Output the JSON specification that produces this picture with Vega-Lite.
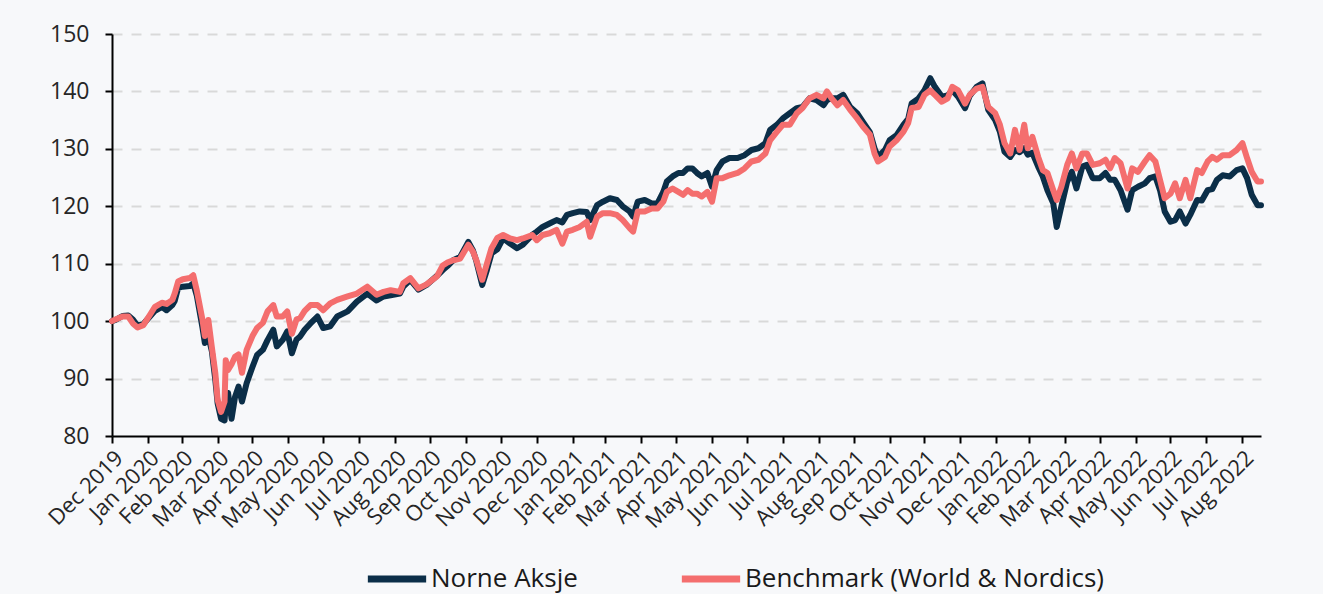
{
  "$schema": "https://vega.github.io/schema/vega-lite/v6.json",
  "width": 1149,
  "height": 402,
  "autosize": {"type": "none"},
  "padding": {"left": 112, "top": 34, "right": 62, "bottom": 158},
  "background": "#F7F8FA",
  "config": {
    "font": "Open Sans",
    "view": {"stroke": null},
    "legend": {"padding": 0}
  },
  "data": {
    "values": [
      {"date":"2019-12-31","N":100.0,"B":100.0},
      {"date":"2020-01-03","N":100.2,"B":100.3},
      {"date":"2020-01-09","N":100.9,"B":100.8},
      {"date":"2020-01-14","N":101.0,"B":100.8},
      {"date":"2020-01-18","N":100.3,"B":99.6},
      {"date":"2020-01-22","N":99.2,"B":98.9},
      {"date":"2020-01-27","N":99.5,"B":99.3},
      {"date":"2020-02-02","N":100.9,"B":101.2},
      {"date":"2020-02-06","N":101.8,"B":102.5},
      {"date":"2020-02-12","N":102.5,"B":103.2},
      {"date":"2020-02-16","N":101.9,"B":103.0},
      {"date":"2020-02-21","N":102.8,"B":103.7},
      {"date":"2020-02-23","N":103.5,"B":104.8},
      {"date":"2020-02-26","N":105.8,"B":106.9},
      {"date":"2020-03-01","N":106.0,"B":107.3},
      {"date":"2020-03-07","N":106.1,"B":107.5},
      {"date":"2020-03-10","N":106.6,"B":108.0},
      {"date":"2020-03-13","N":104.5,"B":105.4},
      {"date":"2020-03-18","N":98.8,"B":100.2},
      {"date":"2020-03-20","N":96.2,"B":97.4},
      {"date":"2020-03-23","N":97.4,"B":100.2},
      {"date":"2020-03-26","N":94.8,"B":95.5},
      {"date":"2020-03-29","N":89.8,"B":91.0},
      {"date":"2020-03-31","N":85.7,"B":86.3},
      {"date":"2020-04-03","N":83.0,"B":84.2},
      {"date":"2020-04-06","N":82.7,"B":86.0},
      {"date":"2020-04-07","N":85.5,"B":93.2},
      {"date":"2020-04-09","N":87.5,"B":91.5},
      {"date":"2020-04-12","N":83.0,"B":92.5},
      {"date":"2020-04-15","N":86.8,"B":93.8},
      {"date":"2020-04-18","N":88.6,"B":94.2},
      {"date":"2020-04-21","N":86.0,"B":91.0},
      {"date":"2020-04-25","N":89.2,"B":95.0},
      {"date":"2020-04-30","N":92.0,"B":97.4},
      {"date":"2020-05-04","N":94.1,"B":98.8},
      {"date":"2020-05-09","N":95.0,"B":99.7},
      {"date":"2020-05-13","N":96.7,"B":101.7},
      {"date":"2020-05-18","N":98.5,"B":102.8},
      {"date":"2020-05-21","N":95.6,"B":100.8},
      {"date":"2020-05-26","N":96.7,"B":100.8},
      {"date":"2020-05-30","N":98.2,"B":101.7},
      {"date":"2020-06-03","N":94.4,"B":97.8},
      {"date":"2020-06-07","N":96.8,"B":100.3},
      {"date":"2020-06-10","N":97.3,"B":100.5},
      {"date":"2020-06-14","N":98.5,"B":101.8},
      {"date":"2020-06-19","N":99.6,"B":102.8},
      {"date":"2020-06-25","N":100.8,"B":102.8},
      {"date":"2020-06-30","N":98.8,"B":101.9},
      {"date":"2020-07-06","N":99.1,"B":103.1},
      {"date":"2020-07-12","N":100.8,"B":103.7},
      {"date":"2020-07-21","N":101.7,"B":104.3},
      {"date":"2020-07-29","N":103.4,"B":104.8},
      {"date":"2020-08-07","N":104.8,"B":106.0},
      {"date":"2020-08-15","N":103.6,"B":104.6},
      {"date":"2020-08-21","N":104.3,"B":105.1},
      {"date":"2020-08-27","N":104.5,"B":105.4},
      {"date":"2020-09-04","N":104.8,"B":105.1},
      {"date":"2020-09-07","N":106.0,"B":106.6},
      {"date":"2020-09-13","N":107.2,"B":107.5},
      {"date":"2020-09-20","N":105.5,"B":105.7},
      {"date":"2020-09-27","N":106.3,"B":106.4},
      {"date":"2020-10-06","N":107.9,"B":107.8},
      {"date":"2020-10-11","N":108.9,"B":109.7},
      {"date":"2020-10-15","N":109.6,"B":110.2},
      {"date":"2020-10-20","N":110.6,"B":110.6},
      {"date":"2020-10-26","N":111.2,"B":110.9},
      {"date":"2020-11-02","N":113.8,"B":113.3},
      {"date":"2020-11-06","N":112.3,"B":112.1},
      {"date":"2020-11-09","N":110.4,"B":110.6},
      {"date":"2020-11-14","N":106.3,"B":107.2},
      {"date":"2020-11-18","N":108.9,"B":110.0},
      {"date":"2020-11-22","N":111.8,"B":112.7},
      {"date":"2020-11-27","N":112.5,"B":114.5},
      {"date":"2020-12-02","N":114.4,"B":115.0},
      {"date":"2020-12-08","N":113.5,"B":114.4},
      {"date":"2020-12-14","N":112.7,"B":114.1},
      {"date":"2020-12-19","N":113.3,"B":114.4},
      {"date":"2020-12-27","N":115.0,"B":115.0},
      {"date":"2020-12-31","N":115.6,"B":114.1},
      {"date":"2021-01-05","N":116.4,"B":115.0},
      {"date":"2021-01-11","N":117.0,"B":115.3},
      {"date":"2021-01-17","N":117.6,"B":115.9},
      {"date":"2021-01-22","N":117.2,"B":113.5},
      {"date":"2021-01-26","N":118.5,"B":115.6},
      {"date":"2021-01-31","N":118.8,"B":115.9},
      {"date":"2021-02-06","N":119.1,"B":116.4},
      {"date":"2021-02-12","N":119.0,"B":117.3},
      {"date":"2021-02-15","N":117.6,"B":114.7},
      {"date":"2021-02-21","N":120.2,"B":118.2},
      {"date":"2021-02-26","N":120.8,"B":118.8},
      {"date":"2021-03-04","N":121.4,"B":118.8},
      {"date":"2021-03-10","N":121.1,"B":118.5},
      {"date":"2021-03-15","N":120.0,"B":117.6},
      {"date":"2021-03-21","N":119.1,"B":116.2},
      {"date":"2021-03-24","N":118.2,"B":115.6},
      {"date":"2021-03-28","N":120.8,"B":119.1},
      {"date":"2021-04-03","N":121.1,"B":119.1},
      {"date":"2021-04-09","N":120.5,"B":119.6},
      {"date":"2021-04-14","N":120.5,"B":119.6},
      {"date":"2021-04-19","N":122.5,"B":120.8},
      {"date":"2021-04-22","N":124.3,"B":122.5},
      {"date":"2021-04-27","N":125.2,"B":123.1},
      {"date":"2021-05-02","N":125.8,"B":122.5},
      {"date":"2021-05-06","N":125.8,"B":122.0},
      {"date":"2021-05-10","N":126.6,"B":122.8},
      {"date":"2021-05-14","N":126.6,"B":122.2},
      {"date":"2021-05-18","N":125.8,"B":122.2},
      {"date":"2021-05-22","N":125.2,"B":121.7},
      {"date":"2021-05-27","N":125.8,"B":122.5},
      {"date":"2021-05-31","N":123.4,"B":120.8},
      {"date":"2021-06-04","N":126.3,"B":124.9},
      {"date":"2021-06-09","N":127.8,"B":124.9},
      {"date":"2021-06-15","N":128.4,"B":125.4},
      {"date":"2021-06-22","N":128.4,"B":125.8},
      {"date":"2021-06-28","N":128.9,"B":126.6},
      {"date":"2021-07-04","N":129.8,"B":127.8},
      {"date":"2021-07-10","N":130.1,"B":128.1},
      {"date":"2021-07-16","N":131.0,"B":129.2},
      {"date":"2021-07-20","N":133.3,"B":131.5},
      {"date":"2021-07-26","N":134.2,"B":133.0},
      {"date":"2021-07-31","N":135.3,"B":134.2},
      {"date":"2021-08-06","N":136.2,"B":134.2},
      {"date":"2021-08-12","N":137.1,"B":136.2},
      {"date":"2021-08-17","N":137.3,"B":137.1},
      {"date":"2021-08-23","N":138.8,"B":138.8},
      {"date":"2021-08-29","N":138.5,"B":139.4},
      {"date":"2021-09-04","N":137.6,"B":138.8},
      {"date":"2021-09-07","N":138.5,"B":140.0},
      {"date":"2021-09-11","N":138.8,"B":138.8},
      {"date":"2021-09-16","N":138.8,"B":137.6},
      {"date":"2021-09-21","N":139.4,"B":138.5},
      {"date":"2021-09-27","N":137.3,"B":136.8},
      {"date":"2021-10-03","N":136.2,"B":135.3},
      {"date":"2021-10-08","N":134.7,"B":133.9},
      {"date":"2021-10-14","N":132.9,"B":132.5},
      {"date":"2021-10-18","N":130.1,"B":129.2},
      {"date":"2021-10-21","N":128.6,"B":127.8},
      {"date":"2021-10-27","N":129.8,"B":128.6},
      {"date":"2021-10-31","N":131.5,"B":130.4},
      {"date":"2021-11-06","N":132.4,"B":131.5},
      {"date":"2021-11-12","N":134.2,"B":133.0},
      {"date":"2021-11-16","N":135.2,"B":134.5},
      {"date":"2021-11-19","N":137.9,"B":137.1},
      {"date":"2021-11-25","N":138.8,"B":137.3},
      {"date":"2021-11-30","N":140.2,"B":139.4},
      {"date":"2021-12-05","N":142.3,"B":140.2},
      {"date":"2021-12-09","N":140.8,"B":139.4},
      {"date":"2021-12-15","N":139.1,"B":138.2},
      {"date":"2021-12-20","N":139.3,"B":138.8},
      {"date":"2021-12-24","N":140.2,"B":140.8},
      {"date":"2021-12-29","N":139.1,"B":140.2},
      {"date":"2022-01-04","N":137.1,"B":137.9},
      {"date":"2022-01-08","N":139.2,"B":139.4},
      {"date":"2022-01-14","N":140.8,"B":140.5},
      {"date":"2022-01-19","N":141.4,"B":140.8},
      {"date":"2022-01-24","N":136.8,"B":137.3},
      {"date":"2022-01-30","N":135.0,"B":136.2},
      {"date":"2022-02-03","N":133.0,"B":134.2},
      {"date":"2022-02-07","N":129.5,"B":131.0},
      {"date":"2022-02-12","N":128.6,"B":129.2},
      {"date":"2022-02-16","N":129.8,"B":133.3},
      {"date":"2022-02-20","N":129.4,"B":129.8},
      {"date":"2022-02-24","N":130.1,"B":134.2},
      {"date":"2022-02-27","N":129.0,"B":130.1},
      {"date":"2022-03-03","N":129.3,"B":132.1},
      {"date":"2022-03-08","N":126.9,"B":128.6},
      {"date":"2022-03-12","N":125.2,"B":126.3},
      {"date":"2022-03-16","N":122.8,"B":125.8},
      {"date":"2022-03-21","N":120.5,"B":122.8},
      {"date":"2022-03-24","N":116.4,"B":121.1},
      {"date":"2022-03-28","N":120.0,"B":123.4},
      {"date":"2022-04-02","N":124.3,"B":127.2},
      {"date":"2022-04-06","N":126.0,"B":129.2},
      {"date":"2022-04-10","N":123.1,"B":126.6},
      {"date":"2022-04-15","N":126.9,"B":129.2},
      {"date":"2022-04-19","N":127.2,"B":129.2},
      {"date":"2022-04-24","N":124.9,"B":127.2},
      {"date":"2022-04-30","N":124.9,"B":127.5},
      {"date":"2022-05-05","N":125.8,"B":128.1},
      {"date":"2022-05-09","N":124.6,"B":126.6},
      {"date":"2022-05-13","N":124.6,"B":128.4},
      {"date":"2022-05-18","N":122.8,"B":127.5},
      {"date":"2022-05-24","N":119.4,"B":123.1},
      {"date":"2022-05-28","N":122.8,"B":126.6},
      {"date":"2022-06-02","N":123.4,"B":126.0},
      {"date":"2022-06-08","N":124.0,"B":127.8},
      {"date":"2022-06-12","N":124.9,"B":128.9},
      {"date":"2022-06-17","N":125.2,"B":127.8},
      {"date":"2022-06-21","N":122.8,"B":124.6},
      {"date":"2022-06-25","N":119.1,"B":121.4},
      {"date":"2022-06-30","N":117.3,"B":122.2},
      {"date":"2022-07-04","N":117.6,"B":124.0},
      {"date":"2022-07-08","N":119.1,"B":121.4},
      {"date":"2022-07-13","N":117.0,"B":124.6},
      {"date":"2022-07-17","N":118.5,"B":121.4},
      {"date":"2022-07-23","N":121.1,"B":126.3},
      {"date":"2022-07-27","N":121.0,"B":125.8},
      {"date":"2022-08-01","N":122.8,"B":127.8},
      {"date":"2022-08-05","N":123.0,"B":128.6},
      {"date":"2022-08-09","N":124.6,"B":128.1},
      {"date":"2022-08-14","N":125.4,"B":128.9},
      {"date":"2022-08-20","N":125.2,"B":128.9},
      {"date":"2022-08-26","N":126.3,"B":129.8},
      {"date":"2022-08-31","N":126.6,"B":131.0},
      {"date":"2022-09-04","N":124.9,"B":128.4},
      {"date":"2022-09-08","N":122.0,"B":126.0},
      {"date":"2022-09-13","N":120.2,"B":124.3},
      {"date":"2022-09-16","N":120.2,"B":124.3}
    ]
  },
  "transform": [
    {"fold": ["N", "B"], "as": ["key", "value"]},
    {"lookup": "key", "from": {"data": {"values": [{"key": "N", "series": "Norne Aksje"}, {"key": "B", "series": "Benchmark (World & Nordics)"}]}, "key": "key", "fields": ["series"]}}
  ],
  "encoding": {
    "x": {
      "field": "date",
      "type": "temporal",
      "scale": {
        "type": "utc",
        "nice": false,
        "domain": [
          {"year": 2019, "month": 12, "date": 31, "utc": true},
          {"year": 2022, "month": 9, "date": 16, "utc": true}
        ]
      },
      "axis": {
        "title": null,
        "grid": false,
        "values": [
          {"year":2019,"month":12,"date":31,"utc":true},
          {"year":2020,"month":1,"date":31,"utc":true},
          {"year":2020,"month":2,"date":29,"utc":true},
          {"year":2020,"month":3,"date":31,"utc":true},
          {"year":2020,"month":4,"date":30,"utc":true},
          {"year":2020,"month":5,"date":31,"utc":true},
          {"year":2020,"month":6,"date":30,"utc":true},
          {"year":2020,"month":7,"date":31,"utc":true},
          {"year":2020,"month":8,"date":31,"utc":true},
          {"year":2020,"month":9,"date":30,"utc":true},
          {"year":2020,"month":10,"date":31,"utc":true},
          {"year":2020,"month":11,"date":30,"utc":true},
          {"year":2020,"month":12,"date":31,"utc":true},
          {"year":2021,"month":1,"date":31,"utc":true},
          {"year":2021,"month":2,"date":28,"utc":true},
          {"year":2021,"month":3,"date":31,"utc":true},
          {"year":2021,"month":4,"date":30,"utc":true},
          {"year":2021,"month":5,"date":31,"utc":true},
          {"year":2021,"month":6,"date":30,"utc":true},
          {"year":2021,"month":7,"date":31,"utc":true},
          {"year":2021,"month":8,"date":31,"utc":true},
          {"year":2021,"month":9,"date":30,"utc":true},
          {"year":2021,"month":10,"date":31,"utc":true},
          {"year":2021,"month":11,"date":30,"utc":true},
          {"year":2021,"month":12,"date":31,"utc":true},
          {"year":2022,"month":1,"date":31,"utc":true},
          {"year":2022,"month":2,"date":28,"utc":true},
          {"year":2022,"month":3,"date":31,"utc":true},
          {"year":2022,"month":4,"date":30,"utc":true},
          {"year":2022,"month":5,"date":31,"utc":true},
          {"year":2022,"month":6,"date":30,"utc":true},
          {"year":2022,"month":7,"date":31,"utc":true},
          {"year":2022,"month":8,"date":31,"utc":true}
        ],
        "labelExpr": "utcFormat(datum.value, '%b %Y')",
        "labelAngle": -45,
        "labelFontSize": 22,
        "labelColor": "#262626",
        "labelOverlap": false,
        "labelFlush": false,
        "labelBound": false,
        "labelPadding": 4,
        "domainColor": "#000000",
        "domainWidth": 2,
        "tickColor": "#000000",
        "tickWidth": 2,
        "tickSize": 7
      }
    },
    "y": {
      "field": "value",
      "type": "quantitative",
      "scale": {"domain": [80, 150], "nice": false, "zero": false},
      "axis": {
        "title": null,
        "values": [80, 90, 100, 110, 120, 130, 140, 150],
        "labelFontSize": 23,
        "labelColor": "#262626",
        "labelPadding": 16,
        "domainColor": "#000000",
        "domainWidth": 2,
        "tickColor": "#000000",
        "tickWidth": 2,
        "tickSize": 7,
        "grid": true,
        "gridDash": [10, 9],
        "gridWidth": 2,
        "gridColor": {"condition": {"test": "datum.value == 80", "value": "transparent"}, "value": "#D9D9D9"}
      }
    },
    "color": {
      "field": "series",
      "type": "nominal",
      "scale": {
        "domain": ["Norne Aksje", "Benchmark (World & Nordics)"],
        "range": ["#0B2E48", "#F46E6E"]
      },
      "legend": {
        "title": null,
        "orient": "none",
        "direction": "horizontal",
        "legendX": 252,
        "legendY": 512,
        "symbolType": "stroke",
        "symbolSize": 3400,
        "symbolStrokeWidth": 7,
        "labelFontSize": 26,
        "labelLimit": 0,
        "labelColor": "#1A1A1A",
        "labelOffset": 1,
        "columnPadding": 89
      }
    }
  },
  "layer": [
    {
      "transform": [{"filter": "datum.key == 'N'"}],
      "mark": {"type": "line", "strokeWidth": 6, "strokeCap": "round", "strokeJoin": "round"}
    },
    {
      "transform": [{"filter": "datum.key == 'B'"}],
      "mark": {"type": "line", "strokeWidth": 6, "strokeCap": "round", "strokeJoin": "round"}
    }
  ]
}
